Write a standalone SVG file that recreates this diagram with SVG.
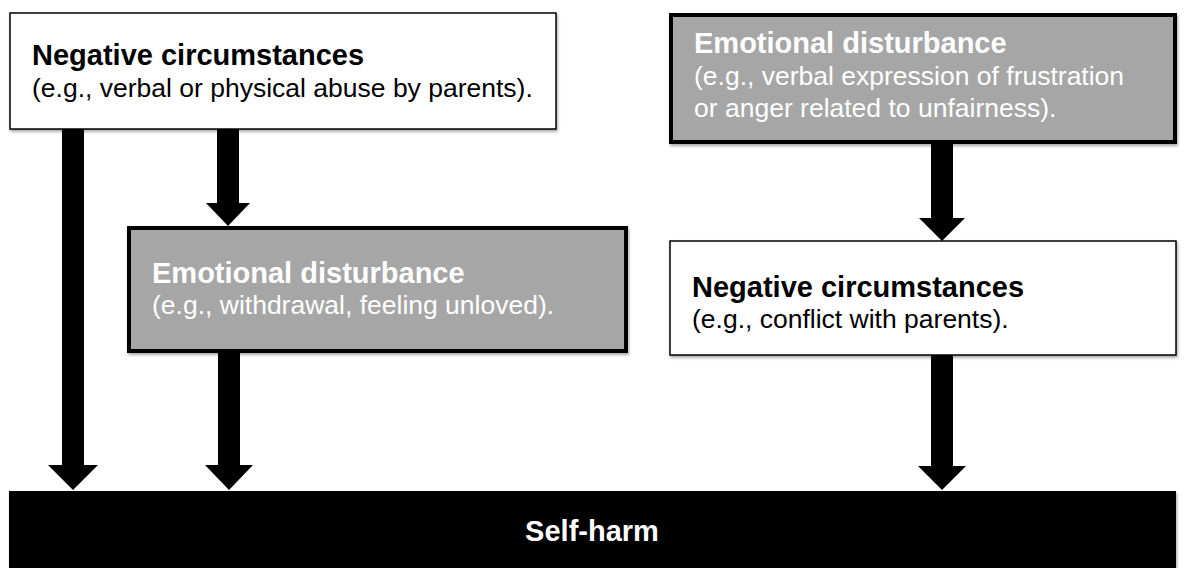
<svg xmlns="http://www.w3.org/2000/svg" width="1184" height="568" viewBox="0 0 1184 568">
<defs>
<style>
.t{font-family:"Liberation Sans",Arial,sans-serif;}
.b{font-weight:bold;font-size:29px;}
.r{font-size:26.5px;}
.dk{fill:#000;}
.lt{fill:#fff;}
.white{fill:#fff;stroke:#000;stroke-width:1.5;}
.gray{fill:#a6a6a6;stroke:#000;stroke-width:4;}
.arrow{fill:#000;}
</style>
<filter id="sh" x="-5%" y="-5%" width="110%" height="115%">
<feDropShadow dx="1" dy="2" stdDeviation="1.5" flood-color="#000" flood-opacity="0.35"/>
</filter>
</defs>
<rect width="1184" height="568" fill="#fff"/>
<g id="connectors">
<polygon class="arrow" points="62,129 84,129 84,465 98,465 73,490 48,465 62,465"/>
<polygon class="arrow" points="217,129 239,129 239,203 250,203 228,226 206,203 217,203"/>
<polygon class="arrow" points="218,353 240,353 240,465 253,465 229,490 205,465 218,465"/>
<polygon class="arrow" points="931,143 953,143 953,218 965,218 942,241 919,218 931,218"/>
<polygon class="arrow" points="931,355 953,355 953,466 966,466 942,490 918,466 931,466"/>
</g>
<g id="node-neg1">
<rect class="white" x="10" y="13" width="546" height="116" filter="url(#sh)"/>
<text class="t b dk" x="32" y="65">Negative circumstances</text>
<text class="t r dk" x="32" y="97">(e.g., verbal or physical abuse by parents).</text>
</g>
<g id="node-emo1">
<rect class="gray" x="671" y="15" width="504" height="127" filter="url(#sh)"/>
<text class="t b lt" x="694" y="53">Emotional disturbance</text>
<text class="t r lt" x="694" y="85">(e.g., verbal expression of frustration</text>
<text class="t r lt" x="694" y="117">or anger related to unfairness).</text>
</g>
<g id="node-emo2">
<rect class="gray" x="129" y="228" width="497" height="123" filter="url(#sh)"/>
<text class="t b lt" x="152" y="283">Emotional disturbance</text>
<text class="t r lt" x="152" y="314">(e.g., withdrawal, feeling unloved).</text>
</g>
<g id="node-neg2">
<rect class="white" x="670" y="241" width="506" height="114" filter="url(#sh)"/>
<text class="t b dk" x="692" y="297">Negative circumstances</text>
<text class="t r dk" x="692" y="328">(e.g., conflict with parents).</text>
</g>
<g id="node-selfharm">
<rect x="9" y="491" width="1167" height="80" fill="#000" filter="url(#sh)"/>
<text class="t b lt" x="592" y="541" text-anchor="middle" font-size="26">Self-harm</text>
</g>
</svg>
